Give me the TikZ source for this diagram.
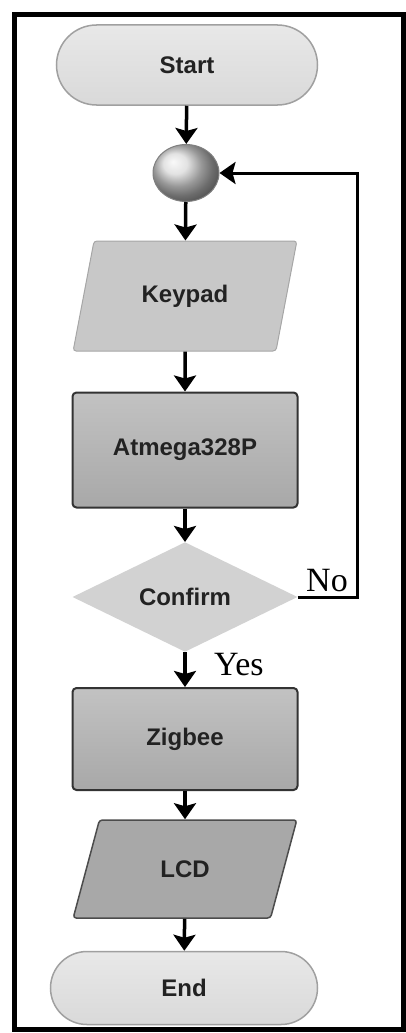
\documentclass[tikz,border=0pt]{standalone}
\usepackage{fontspec}
\setmainfont{Liberation Serif}
\setsansfont{Liberation Sans}
\usetikzlibrary{arrows.meta,shapes.geometric,shapes.misc}

\definecolor{termfill}{HTML}{D9D9D9}
\definecolor{termline}{HTML}{A0A0A0}
\definecolor{iofill}{HTML}{C8C8C8}
\definecolor{procfill}{HTML}{A8A8A8}
\definecolor{decfill}{HTML}{D2D2D2}
\definecolor{labelgray}{HTML}{222222}

\begin{document}
\begin{tikzpicture}[x=1pt,y=-1pt,
    box/.style={font=\sffamily\bfseries\fontsize{24}{27}\selectfont,text=labelgray,inner sep=0pt},
    terminal/.style={box,rounded rectangle,draw=termline,line width=1.5pt,
      top color=termfill!60,bottom color=termfill},
    connector/.style={ellipse,draw=gray,line width=1pt,minimum width=66pt,minimum height=57pt,
      ball color=gray!30},
    io/.style={box,trapezium,trapezium left angle=66,trapezium right angle=114,
      trapezium stretches=true,rounded corners=3pt,minimum width=224pt},
    process/.style={box,rectangle,rounded corners=4pt,draw=black!80,line width=2pt,
      top color=procfill!70,bottom color=procfill,minimum width=225pt},
    decision/.style={box,diamond,fill=decfill,minimum width=225pt,minimum height=100pt},
    flow/.style={line width=3.5pt,-{Stealth[length=16pt,width=22pt,inset=3pt]}},
    answer/.style={font=\fontsize{34}{37}\selectfont,text=black,inner sep=0pt}]
  \useasboundingbox (0,0) rectangle (406,1033);
  \draw[line width=5pt] (14,15) rectangle (403,1029);

  \draw
    (187,65) node[terminal,minimum width=261pt,minimum height=80pt] (start){Start}
    (186,173) node[connector] (loop){}
    (185,296) node[io,draw=gray!70,line width=1pt,fill=iofill,minimum height=110pt] (keypad){Keypad}
    (185,450) node[process,minimum height=115pt] (mcu){Atmega328P}
    (185,597) node[decision] (confirm){Confirm}
    (185,739) node[process,minimum height=102pt] (zigbee){Zigbee}
    (185,869) node[io,draw=black!70,line width=1.5pt,fill=procfill,minimum height=98pt] (lcd){LCD}
    (184,988) node[terminal,minimum width=267pt,minimum height=73pt] (end){End};
  \coordinate (noturn) at (357,597);

  \begin{scope}[flow]
    \draw (start) to (loop);
    \draw (loop) to (keypad);
    \draw (keypad) to (mcu);
    \draw (mcu) to (confirm);
    \draw (confirm) to (zigbee);
    \draw (zigbee) to (lcd);
    \draw (lcd) to (end);
    \draw[line width=3pt] (confirm.east) -- (noturn) |- (loop.east);
  \end{scope}

  \node[answer,anchor=south] (no) at (327,592) {No};
  \node[answer,anchor=west] (yes) at (214,665) {Yes};
\end{tikzpicture}
\end{document}
